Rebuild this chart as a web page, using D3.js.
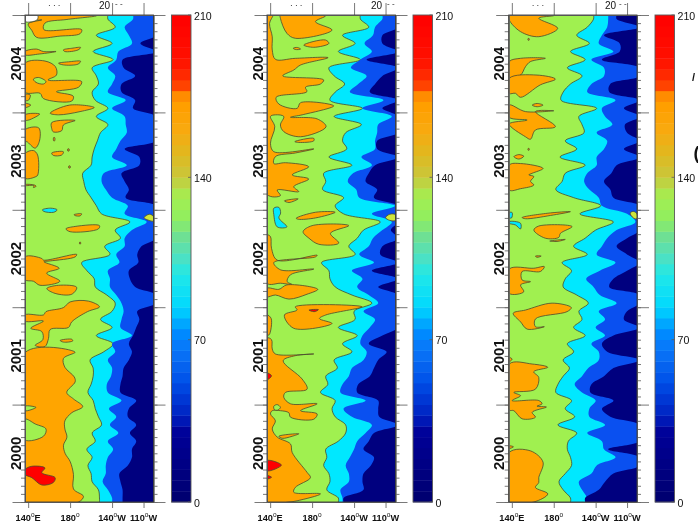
<!DOCTYPE html>
<html>
<head>
<meta charset="utf-8">
<script src="https://cdn.jsdelivr.net/npm/d3@7/dist/d3.min.js"></script>
<style>
html,body{margin:0;padding:0;background:#fff;overflow:hidden}
svg{display:block;filter:blur(0.35px)}
text{font-family:"Liberation Sans",Arial,sans-serif;fill:#111}
</style>
</head>
<body>
<svg id="c" width="698" height="524"></svg>
<script>
// Longitude (deg E) of each contour for monthly rows, newest (Dec 2004) to oldest (Jan 2000). 262 = off the right edge.
const cyanEdgeA=[216,223,205,220,202,221,201,205,207,201,204,216,205,216,209,206,203,201,200,192,193,195,200,205,210,237,223,228,213,218,191,196,203,204,215,223,220,209,220,205,221,212,199,202,202,200,197,202,204,207,210,201,204,196,201,197,200,201,207,208];
const blueEdgeA=[240,232,236,239,226,224,216,223,220,216,233,220,232,233,234,228,224,220,234,212,210,214,220,235,232,253,239,232,232,224,227,216,218,218,224,229,231,229,228,239,220,223,216,220,219,215,216,229,217,224,218,226,216,221,216,214,214,211,216,220];
const navyEdgeA=[262,262,262,247,262,230,231,242,229,229,242,240,262,262,262,262,232,246,246,229,232,236,233,262,262,262,262,262,248,244,245,236,237,242,262,262,244,246,243,240,236,239,236,231,230,228,228,243,236,235,243,237,243,239,239,235,227,228,230,230];
const cyanEdgeB=[226,234,209,221,205,226,196,201,211,202,197,228,201,227,212,209,213,196,218,191,193,190,210,202,210,245,229,223,215,221,189,196,197,202,218,237,220,221,205,223,209,218,201,204,193,195,188,202,199,202,212,212,205,193,194,191,196,197,194,205];
const blueEdgeB=[247,240,238,230,237,226,217,232,224,216,248,228,256,243,242,240,240,227,237,219,214,222,225,259,237,256,247,238,234,225,239,218,228,223,234,243,229,240,235,228,226,232,229,218,215,209,207,231,210,218,237,231,223,220,216,212,215,215,207,209];
const navyEdgeB=[262,262,247,247,262,232,262,247,240,235,262,247,262,262,262,242,242,262,240,234,231,242,239,262,262,262,255,262,247,245,262,237,262,243,262,262,262,262,262,247,234,251,243,239,235,224,223,243,243,244,262,239,234,229,239,236,229,228,229,210];
const cyanEdgeC=[218,212,202,214,196,210,193,207,196,189,187,221,204,207,209,191,202,186,210,191,188,182,199,225,205,237,220,210,199,212,188,197,191,189,202,213,204,207,199,210,193,199,189,195,189,184,182,197,191,200,184,202,194,193,196,197,191,185,189,196];
const blueEdgeC=[232,231,226,223,237,216,228,228,216,212,239,226,229,236,221,231,228,221,221,212,209,214,223,226,250,258,240,231,226,221,239,224,211,218,224,240,223,229,220,229,216,223,223,213,207,200,207,220,214,214,229,212,226,228,239,221,216,204,207,212];
const navyEdgeC=[240,262,228,243,243,226,262,262,234,233,262,247,262,248,250,262,247,262,240,235,228,234,237,262,262,262,262,250,240,250,262,250,237,233,262,262,250,247,262,237,226,231,262,237,228,216,215,237,226,234,262,262,262,232,262,262,237,229,223,210];

// Closed contour rings as [longitude, months before Jan 2005].
const orangeA=[
[[156,0],[205,.1],[177,.55],[156,1],[155,1.8],[191,1.8],[189.5,2.3],[170.5,2.6],[148,2.75],[143.5,1.9],[140,1.1],[153,.6],[148,.6],[149,0]],
[[137,4.5],[148,4.2],[154.5,4.5],[166.6,4.5],[151,4.8],[137,4.9]],
[[173.6,4.3],[181.6,4.1],[190,4],[187.6,4.3],[175,4.5]],
[[169,5.95],[180,5.75],[190,5.7],[187.6,6.05],[173.6,6.15]],
[[137,5.95],[156,5.67],[166,6.37],[167,7.4],[159,8],[191,8.2],[188,8.9],[167,9.45],[183,10],[181.6,10.6],[154.6,10.3],[151.4,9.65],[137,9.5]],
[[137,9.8],[142,9.85],[140.3,10.5],[137,10.5]],
[[137,10.9],[142.5,11.1],[137,11.4]],
[[161,12.1],[179.4,11.1],[203,11.4],[189.5,11.9],[169,12.3]],
[[137,12.3],[151,12.2],[140.3,12.95],[137,12.95]],
[[162.5,13.25],[184.8,13],[173.6,13.55],[172,14.25],[164,14.4],[162.5,14]],
[[137,14.15],[150,13.9],[151,15.4],[146.7,16.4],[138.7,15.6],[137,15.6]],
[[137,17.1],[145,16.7],[149,17.25],[149.2,19.7],[147.6,19.9],[137,20.1]],
[[162.5,17],[173.6,16.85],[172,17.25],[164,17.3]],
[[137,20.9],[146,20.95],[147.6,21.1],[145,21.25],[145.5,21.02],[137,21]],
[[164.3,15.1],[165.3,15.1],[165.3,15.5],[164.3,15.5]],
[[177.8,16.5],[179,16.5],[179,16.75],[177.8,16.75]],
[[178.8,18.6],[180,18.6],[180,18.85],[178.8,18.85]],
[[189,28],[190,28],[190,28.2],[189,28.2]],
[[183.8,24.6],[191,24.5],[189.5,24.75],[184.5,24.7]],
[[176,26.35],[184.8,26.05],[208,25.95],[207,26.35],[180,26.7]],
[[137,29.8],[153,30],[154.6,30.2],[186.3,29.5],[184.8,29.8],[161,30.3],[155,30.4],[169.6,31.2],[157.6,31.8],[170.3,32.8],[151.3,33.3],[145,32.8],[137,32.6]],
[[157.8,33.7],[168.9,33.3],[186.3,33.55],[181.6,34.4],[165.7,34.3]],
[[137,36.95],[154.6,36.95],[157,36.55],[173.6,36.05],[180,35.35],[197.5,35.25],[208,35.95],[196.5,36.55],[181.6,37.8],[178.4,38.5],[161,38.75],[159.4,39.85],[156,40.85],[146.7,40.7],[154,40],[153,39],[142.5,38.6],[154.6,37.7],[137,37.7]],
[[170.5,40.1],[181.6,39.95],[182.5,40.15],[173.6,40.3]],
[[137,41.6],[184.8,41.55],[173.7,42.3],[175,43.4],[184,44.6],[184.8,45.2],[176.8,46.5],[183.2,47.3],[192,48.25],[181.6,49],[175,50],[175,51],[177,52],[173.7,53],[175.2,54],[180,55],[183.2,56.6],[183.2,58.4],[192.7,59.3],[188,60],[137,60]]
];
const greenHolesA=[
[[145,7.9],[150,7.7],[157,8.2],[154.6,8.5],[147.5,8.3]],
[[137,48.2],[147.5,48.35],[137,48.75]],
[[137,49.8],[147,50.4],[157,51],[154.6,51.9],[137,52.35]]
];
const warmSpotA=[[250.5,24.97],[255.6,24.55],[259.5,24.84],[259.5,25.38],[254,25.25]];
const cyanIslesA=[[[153.6,24],[161.5,23.8],[167.6,24],[164.5,24.3],[155,24.2]]];
const redA=[[[137,56],[143.5,55.6],[156,55.8],[153,56.4],[165.7,57],[164,57.6],[153,57.9],[143.5,57],[137,56.6]]];
const missingA=[[[137,0],[149,0],[148.5,.6],[137,.8]]];

const orangeB=[
[[137,0],[142.5,0],[139.4,1.03],[142,2.67],[142,4.31],[145,5.46],[164,5.34],[195.2,5.26],[169,6.16],[162.5,6.78],[152,7.5],[191,8],[188,8.5],[173.7,8.9],[175,9.45],[145.7,10.14],[148.3,10.97],[165.7,11.5],[169,10.8],[200.6,11.2],[170.5,12.3],[159.4,12.6],[184.8,12.8],[193.3,13.76],[169,15],[153,14.37],[149.8,13.55],[153,12.5],[145,12.3],[140.3,12.5],[144.4,13.76],[140.3,15.8],[143.5,16.84],[181.6,16.5],[164,17],[145,17.45],[143.5,18.3],[154.6,18.2],[176.8,18.7],[161,19.7],[176.8,20.2],[162.5,21.15],[167.3,21.76],[146.7,21.56],[149.8,22.25],[137,22.1]],
[[149.8,0],[192.7,.1],[183.2,.82],[199,1.85],[164,2.87],[156,2.26],[149.8,.41]],
[[172,3.7],[192.7,3.08],[196,3.5],[181.6,3.98]],
[[162,4.1],[166,4],[169,4.2],[164,4.25]],
[[163.5,15.6],[181.6,15.2],[181.6,15.5],[167.3,15.7]],
[[164.8,25.05],[183.3,24.3],[202,24.3],[183.3,25],[167,25.17]],
[[171.4,26.7],[180,25.95],[215,25.95],[197.5,26.9],[205.4,28.1],[186.4,28.25],[177,27.5]],
[[153.6,22.9],[166.7,22.65],[158,23.1]],
[[137,27.1],[140.3,27.3],[141.3,28.75],[146.7,30.2],[184.8,29.6],[183.2,29.8],[143.5,30.5],[150,31.4],[181.6,31.3],[159.4,32],[156.2,32.85],[161,33.2],[150,33.05],[137,33.05]],
[[137,33.67],[148.3,33.8],[156,33.25],[185.4,33.8],[175.2,34.4],[158,35],[145,34.5],[137,34.7]],
[[153.6,36.96],[165.7,36.34],[164,35.95],[227.6,35.95],[193,36.96],[187,37.4],[199,38],[162.5,38.6]],
[[137,36.96],[141,37.4],[139,39.4],[137,39.4]],
[[137,39.8],[141.3,40],[142,41.15],[145,41.76],[181.6,41.76],[164,41.97],[152.4,42.6],[170.5,44.85],[175.2,46.1],[154.6,46.5],[153,47.1],[159.4,47.9],[184.8,47.9],[169,48.75],[184.8,49.15],[181.6,49.8],[159.4,49.55],[157.8,49],[149.8,48.75],[142,48.75],[140.3,49.15],[145,50],[142,51],[146.7,52],[159.4,52.85],[161,53.9],[175.2,56.35],[178.4,57],[164,58.2],[162.5,58.8],[188,59],[165.7,59.85],[157.8,60],[137,60]],
[[148.3,51.9],[167.3,51.6],[161,51.9],[151.4,52.15]]
];
const greenHolesB=[
[[143.5,48.2],[146.7,48],[149.8,48.35],[146.7,48.7],[144,48.6]]
];
const warmSpotB=[[250,24.97],[254,24.55],[259.5,24.6],[259.5,25.3],[254,25.3]];
const cyanIslesB=[[[143.5,23.8],[148.3,23.7],[150,24.4],[148.3,25],[156,26.1],[146.7,26.1],[143.5,24.6]]];
const redB=[[[137,54.9],[150.8,55.45],[137,56.15]],[[137,56.75],[141.3,56.95],[137,57.15]],[[137,44.1],[141.3,44.45],[137.5,44.9]],[[177,36.35],[186,36.3],[182,36.55]]];

const orangeC=[
[[137.5,0],[180,.08],[165.7,.4],[183.8,1.64],[165.7,2.67],[148.3,2.05],[137.5,.6]],
[[137.5,5.75],[148.3,5.34],[172,5.34],[157.6,5.75],[153,6.37],[148.3,7.4],[137.5,7.7]],
[[137.5,7.8],[164,7.4],[181.6,7.9],[167.3,8.6],[148.3,10.14],[143.5,9.65],[137.5,9.65]],
[[159.4,11.1],[164,10.9],[169.8,11.1],[164,11.3]],
[[137.5,11.1],[153,11.9],[180,11.8],[162.5,11.9],[181.6,13.76],[162.5,14.17],[157.8,15.3],[153,15],[137.5,13.43],[154.6,12.94],[137.5,12.6]],
[[155.5,2.9],[156.5,2.9],[156.5,3.1],[155.5,3.1]],
[[155.5,16.45],[156.5,16.45],[156.5,16.65],[155.5,16.65]],
[[142,17.45],[146.7,17.2],[151.4,17.4],[146.7,17.75]],
[[137.5,18.5],[148.3,18.3],[169.8,18.9],[159.4,19.5],[156.2,19.7],[161,19.9],[157.8,20.5],[161,20.94],[148.3,21.4],[137.5,21.56]],
[[149.8,24.96],[173.7,24.43],[195.9,24.23],[176.8,24.7],[153,25.1]],
[[161,26.5],[165.7,26],[197.5,26.07],[186.4,26.9],[184.8,27.4],[172,27.5]],
[[176.2,27.85],[191,27.65],[183.2,27.9]],
[[162.5,29.7],[168,29.7],[164,29.85]],
[[137.5,31.3],[161,31.2],[171,31],[167.3,31.6],[149.8,31.6],[149.8,32.65],[157.8,32.85],[148.3,33.25],[151.4,34.1],[137.5,34.3]],
[[141.3,36.75],[153,36.35],[178.4,35.5],[196.8,36.05],[192.7,36.55],[162.5,37.45],[162.5,38.4],[171,38.4],[154.6,38.7],[148.3,37.8]],
[[137.5,42.2],[140.3,42.4],[137.5,42.7]],
[[137.5,43],[159.4,43],[174.3,43.4],[160.9,43.95],[165.7,44.65],[162.5,46.1],[141.9,46.5],[148.3,46.9],[140.3,47.5],[165.7,47.5],[168.9,47.9],[164,48.2],[173,48.3],[159.4,48.95],[162.5,49.55],[149.8,49.75],[141.9,48.75],[137.5,48.65]],
[[137.5,53.1],[141.5,53.2],[137.5,53.4]],
[[137.5,53.9],[157.8,53.7],[169.8,55.1],[165.7,57],[165.7,57.6],[162.5,58.2],[174.3,59],[161,60],[137.5,60]]
];
const greenHolesC=[];
const warmSpotC=[[253,24.4],[256,24.2],[259.5,24.5],[259.5,25.1],[256,25]];
const cyanIslesC=[[[137.5,24.35],[140.3,24.35],[139.7,25],[137.5,24.96]],[[137.5,25.46],[148.3,25.66],[148.3,26.36],[143.5,25.87],[137.5,25.66]]];
const redC=[];

const lonTicks=[140,180,220,250];
const lonText=["140","180","140","110"];
const lonSuffix=["E","","W","W"];
const yearTicks=[2000,2001,2002,2003,2004,2005];
const yearLabels=[2000,2001,2002,2003,2004];
const barTicks=[0,70,140,210];
const barStopValues=[0,30,37,52,66,71,76,84,98,106,115,122,132,140,150,160,170,175,177,181,186,191,210];
const barStopColors=["#00006e","#000098","#0020c0","#0050e8","#0a78f8","#0080ff","#00a0ff","#00d8ff","#20e8e8","#50e0c0","#70e090","#90ee60","#a5ee50","#c8c83c","#e0b820","#f8aa10","#ffa000","#ff8c00","#ff5500","#ff3a00","#ff2000","#ff1000","#ff0000"];
const barSteps=45;
const cutOffTop=["20","- -","· · ·"];

const panels=[
 {x0:25,x1:153.5,bar:171.5,label:99,dash:115,cyan:cyanEdgeA,blue:blueEdgeA,navy:navyEdgeA,orange:orangeA,holes:greenHolesA,spot:warmSpotA,isles:cyanIslesA,red:redA,missing:missingA},
 {x0:267,x1:395.5,bar:413,label:371,dash:387,cyan:cyanEdgeB,blue:blueEdgeB,navy:navyEdgeB,orange:orangeB,holes:greenHolesB,spot:warmSpotB,isles:cyanIslesB,red:redB,missing:[]},
 {x0:508.7,x1:637,bar:655,label:605,dash:619,cyan:cyanEdgeC,blue:blueEdgeC,navy:navyEdgeC,orange:orangeC,holes:greenHolesC,spot:warmSpotC,isles:cyanIslesC,red:redC,missing:[]}
];
const top_=15,bottom_=502,barW=19.5;
const fills={green:"#a0f050",orange:"#ffa500",cyan:"#00e8ff",blue:"#0a50f0",navy:"#00007f",red:"#ff0000",spot:"#cfe63c"};
const lineCol="#4a4a2e",axisCol="#6a6a6a";

const svg=d3.select("#c");
const y=d3.scaleLinear().domain([2000,2005]).range([bottom_,top_]);
const tOf=m=>2005-m/12;
const barY=d3.scaleLinear().domain([0,210]).range([bottom_,top_]);
const barCol=d3.scaleLinear().domain(barStopValues).range(barStopColors);
const months=d3.range(0,61).map(i=>2000+i/12);

panels.forEach((p,pi)=>{
  const x=d3.scaleLinear().domain([137,259.5]).range([p.x0,p.x1]);
  const id="clip"+pi;
  svg.append("clipPath").attr("id",id).append("rect").attr("x",p.x0).attr("y",top_).attr("width",p.x1-p.x0).attr("height",bottom_-top_);
  const g=svg.append("g").attr("clip-path",`url(#${id})`);
  g.append("rect").attr("x",p.x0).attr("y",top_).attr("width",p.x1-p.x0).attr("height",bottom_-top_).attr("fill",fills.green);
  const ring=d3.line().x(d=>x(d[0])).y(d=>y(tOf(d[1]))).curve(d3.curveCatmullRomClosed.alpha(.5));
  const rings=(list,fill,stroke)=>list.forEach(r=>{
    g.append("path").attr("d",ring(r)).attr("fill",fill)
     .attr("stroke",stroke?lineCol:"none").attr("stroke-width",.8).attr("stroke-linejoin","round");
  });
  rings(p.orange,fills.orange,true);
  rings(p.holes,fills.green,true);
  rings(p.red,fills.red,true);
  const rows=e=>[[e[0],0]].concat(e.map((v,i)=>[v,i+.5])).concat([[e[e.length-1],60]]);
  const curve=d3.curveCatmullRom.alpha(.5);
  const band=d3.area().x0(d=>x(d[0])).x1(x(264)).y(d=>y(tOf(d[1]))).curve(curve);
  const edge=d3.line().x(d=>x(d[0])).y(d=>y(tOf(d[1]))).curve(curve);
  g.append("path").attr("d",band(rows(p.cyan))).attr("fill",fills.cyan);
  g.append("path").attr("d",edge(rows(p.cyan))).attr("fill","none").attr("stroke",lineCol).attr("stroke-width",.8).attr("stroke-linejoin","round");
  g.append("path").attr("d",band(rows(p.blue))).attr("fill",fills.blue);
  g.append("path").attr("d",band(rows(p.navy))).attr("fill",fills.navy);
  rings(p.isles,fills.cyan,true);
  rings([p.spot],fills.spot,true);
  rings(p.missing,"#ffffff",true);

  // axes
  const style=a=>{a.select(".domain").attr("stroke",axisCol).attr("stroke-width",1);a.selectAll("line").attr("stroke",axisCol).attr("stroke-width",.9);a.selectAll("text").remove();};
  const ax=(gen)=>svg.append("g").call(gen).call(style);
  const place=(sel,tx,ty)=>sel.attr("transform",`translate(${tx},${ty})`);
  place(ax(d3.axisLeft(y).tickValues(months).tickSize(4).tickSizeOuter(0)),p.x0,0);
  place(ax(d3.axisRight(y).tickValues(months).tickSize(4).tickSizeOuter(0)),p.x1,0);
  place(ax(d3.axisLeft(y).tickValues(yearTicks).tickSize(12.5).tickSizeOuter(0)),p.x0,0);
  place(ax(d3.axisRight(y).tickValues(yearTicks).tickSize(12).tickSizeOuter(0)),p.x1,0);
  place(ax(d3.axisTop(x).tickValues(lonTicks).tickSize(12).tickSizeOuter(0)),0,top_);
  place(ax(d3.axisBottom(x).tickValues(lonTicks).tickSize(6).tickSizeOuter(0)),0,bottom_);

  svg.append("rect").attr("x",p.x0).attr("y",top_).attr("width",p.x1-p.x0).attr("height",bottom_-top_)
    .attr("fill","none").attr("stroke","#3c3c3c").attr("stroke-width",.9);

  yearLabels.forEach(yr=>{
    svg.append("text").attr("transform",`translate(${p.x0-4.5},${y(yr+.5)}) rotate(-90)`)
      .attr("text-anchor","middle").attr("font-size",15).attr("font-weight","bold").text(yr);
  });
  lonTicks.forEach((v,i)=>{
    const t=svg.append("text").attr("x",x(v)).attr("y",520.5).attr("text-anchor","middle").attr("font-size",9.2).attr("font-weight","bold");
    t.append("tspan").text(lonText[i]);
    t.append("tspan").attr("dy",-3.5).attr("font-size",6.5).attr("font-weight","normal").text("o");
    if(lonSuffix[i]) t.append("tspan").attr("dy",3.5).text(lonSuffix[i]);
  });
  svg.append("text").attr("x",p.label).attr("y",9).attr("font-size",10).text(cutOffTop[0]);
  svg.append("text").attr("x",p.dash).attr("y",6).attr("font-size",8).text(cutOffTop[1]);
  svg.append("text").attr("x",p.x0+23).attr("y",8).attr("font-size",8).text(cutOffTop[2]);

  // colour bar
  const stepVals=d3.range(barSteps).map(i=>210*i/barSteps);
  svg.append("g").selectAll("rect").data(stepVals).join("rect")
    .attr("x",p.bar).attr("width",barW)
    .attr("y",d=>barY(d+210/barSteps)).attr("height",d=>barY(d)-barY(d+210/barSteps)+.4)
    .attr("fill",d=>barCol(d+105/barSteps));
  svg.append("rect").attr("x",p.bar).attr("y",top_).attr("width",barW).attr("height",bottom_-top_)
    .attr("fill","none").attr("stroke","#5a5a5a").attr("stroke-width",.9);
  barTicks.forEach(v=>{
    svg.append("line").attr("x1",p.bar+barW).attr("x2",p.bar+barW-3).attr("y1",barY(v)).attr("y2",barY(v)).attr("stroke","#5a5a5a").attr("stroke-width",.8);
    svg.append("text").attr("x",p.bar+barW+3).attr("y",barY(v)+4.8).attr("font-size",10.6).text(v);
  });
});

// Edges of a larger annotation that runs off the right side of the picture
svg.append("text").attr("x",692).attr("y",81).attr("font-size",11).attr("font-weight","bold").text("/");
svg.append("text").attr("x",693.5).attr("y",159).attr("font-size",18).attr("font-weight","bold").text("(");
</script>
</body>
</html>
